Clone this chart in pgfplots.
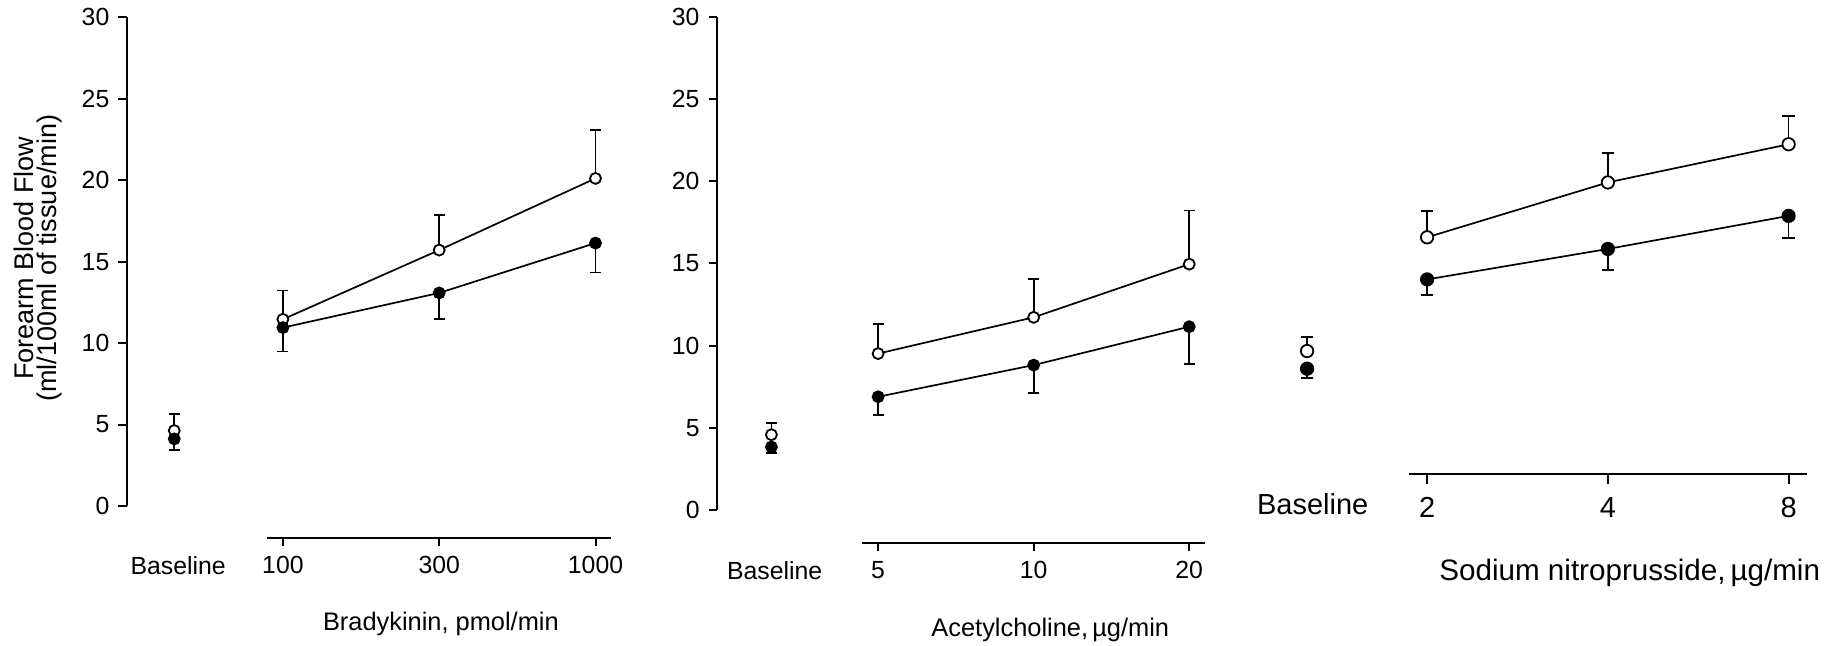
\documentclass[border=0pt]{standalone}
\usepackage{pgfplots}
\pgfplotsset{compat=1.18}
\usepackage{fontspec}
\setmainfont{Liberation Sans}

\pgfplotsset{
  yaxisA/.style={
    axis x line=none, axis y line*=left,
    ymin=0, ymax=30, ytick={0,5,10,15,20,25,30},
    tick align=outside, major tick length=4.1pt,
    axis line style={line width=1pt, black},
    every tick/.style={line width=1pt, black},
    yticklabel style={font=\fontsize{12.4}{14}\selectfont, xshift=-1pt},
    /pgf/number format/assume math mode=true,
    clip=false, anchor=south west,
  },
  xaxisB/.style={
    axis y line=none, axis x line*=bottom,
    ymin=0, ymax=1, y=1pt,
    xtick={1,2,3}, tick align=outside, major tick length=4.1pt,
    axis line style={line width=1pt, black},
    every tick/.style={line width=1pt, black},
    xticklabel style={font=\fontsize{12.4}{14}\selectfont, yshift=-1.7pt},
    xlabel style={font=\fontsize{12.7}{15}\selectfont, anchor=center},
    clip=false, anchor=south west,
  },
  openser/.style={black, line width=0.85pt, mark=*, mark size=#1,
    mark options={fill=white, line width=0.9pt},
    error bars/.cd, y dir=plus, y explicit, error mark=-,
    error bar style={line width=0.85pt},
    error mark options={rotate=90, mark size=#1, line width=0.85pt}, /pgfplots/.cd},
  fillser/.style={black, line width=0.85pt, mark=*, mark size=#1,
    mark options={fill=black, line width=0.9pt},
    error bars/.cd, y dir=minus, y explicit, error mark=-,
    error bar style={line width=0.85pt},
    error mark options={rotate=90, mark size=#1, line width=0.85pt}, /pgfplots/.cd},
}

\begin{document}
\begin{tikzpicture}
\path[use as bounding box] (0,0) rectangle (917.5pt,-323pt);

% ---------------- Panel 1: Bradykinin ----------------
\begin{axis}[yaxisA, at={(63.3pt,-253pt)}, xmin=0, xmax=3.1, x=78.15pt, y=8.145pt,
  ylabel={Forearm Blood Flow\\(ml/100ml of tissue/min)},
  ylabel style={at={(rel axis cs:-0.183,0.507)}, anchor=center, align=center,
    font=\fontsize{13.5}{11.7}\selectfont}]
\addplot[openser=2.75pt] coordinates {(1,11.46) +- (0,1.77) (2,15.71) +- (0,2.17) (3,20.11) +- (0,2.98)};
\addplot[only marks, openser=2.75pt] coordinates {(0.305,4.63) +- (0,1.01)};
\addplot[fillser=2.75pt] coordinates {(1,10.95) +- (0,1.46) (2,13.08) +- (0,1.62) (3,16.14) +- (0,1.80)};
\addplot[only marks, fillser=2.75pt] coordinates {(0.305,4.12) +- (0,0.68)};
\end{axis}
\begin{axis}[xaxisB, at={(133.65pt,-268.85pt)}, xmin=0.900, xmax=3.099, x=78.15pt,
  xticklabels={100,300,1000},
  xlabel={Bradykinin, pmol/min},
  xlabel style={at={(rel axis cs:0.505,0)}, yshift=-43.2pt}]
\node[font=\fontsize{12.4}{14}\selectfont, anchor=north, yshift=-5.8pt] at (axis cs:0.33,0) {Baseline};
\end{axis}

% ---------------- Panel 2: Acetylcholine ----------------
\begin{axis}[yaxisA, at={(358.4pt,-254.85pt)}, xmin=-0.037, xmax=3.1, x=77.78pt, y=8.207pt]
\addplot[openser=2.75pt] coordinates {(1,9.51) +- (0,1.81) (2,11.72) +- (0,2.34) (3,14.96) +- (0,3.27)};
\addplot[only marks, openser=2.75pt] coordinates {(0.314,4.57) +- (0,0.70)};
\addplot[fillser=2.75pt] coordinates {(1,6.88) +- (0,1.13) (2,8.81) +- (0,1.68) (3,11.15) +- (0,2.29)};
\addplot[only marks, fillser=2.75pt] coordinates {(0.314,3.82) +- (0,0.38)};
\end{axis}
\begin{axis}[xaxisB, at={(430.95pt,-271.5pt)}, xmin=0.896, xmax=3.102, x=77.78pt,
  xticklabels={5,10,20},
  xlabel={Acetylcholine,\,µg/min},
  xlabel style={at={(rel axis cs:0.549,0)}, yshift=-43.7pt}]
\node[font=\fontsize{12.4}{14}\selectfont, anchor=north, yshift=-5.8pt] at (axis cs:0.335,0) {Baseline};
\end{axis}

% ---------------- Panel 3: Sodium nitroprusside ----------------
\begin{axis}[axis x line=none, axis y line=none, clip=false, anchor=south west,
  at={(623.175pt,-218.2pt)}, xmin=0, xmax=3.1, ymin=0, ymax=20, x=90.375pt, y=9.4pt]
\addplot[openser=3.1pt] coordinates {(1,10.59) +- (0,1.40) (2,13.51) +- (0,1.55) (3,15.54) +- (0,1.49)};
\addplot[only marks, openser=3.1pt] coordinates {(0.336,4.54) +- (0,0.75)};
\addplot[fillser=3.1pt] coordinates {(1,8.35) +- (0,0.83) (2,9.97) +- (0,1.11) (3,11.73) +- (0,1.16)};
\addplot[only marks, fillser=3.1pt] coordinates {(0.336,3.60) +- (0,0.50)};
\end{axis}
\begin{axis}[xaxisB, at={(704.5pt,-236.9pt)}, xmin=0.900, xmax=3.102, x=90.375pt,
  major tick length=5.1pt,
  xticklabels={2,4,8},
  xticklabel style={font=\fontsize{14.5}{17}\selectfont, yshift=-1.4pt},
  xlabel={Sodium nitroprusside,\,µg/min},
  xlabel style={at={(rel axis cs:0.5546,0)}, yshift=-49.5pt, font=\fontsize{14.8}{17}\selectfont}]
\node[font=\fontsize{14.5}{17}\selectfont, anchor=north, yshift=-6.5pt] at (axis cs:0.367,0) {Baseline};
\end{axis}
\end{tikzpicture}
\end{document}
